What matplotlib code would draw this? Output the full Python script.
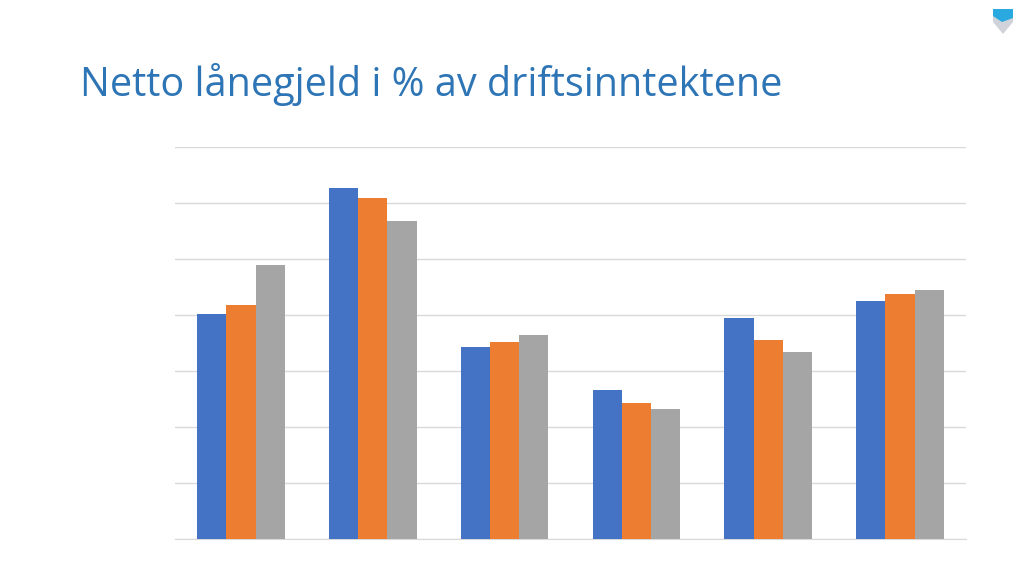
import matplotlib
matplotlib.use("Agg")
import matplotlib.pyplot as plt
import numpy as np
from matplotlib.patches import Polygon

categories = ["1", "2", "3", "4", "5", "6"]
series_a = [80.4, 125.4, 68.6, 53.2, 78.9, 85.0]
series_b = [83.6, 121.8, 70.4, 48.6, 71.1, 87.5]
series_c = [97.9, 113.6, 72.9, 46.4, 66.8, 88.9]
yticks = [0, 20, 40, 60, 80, 100, 120, 140]

colors = ["#4472C4", "#ED7D31", "#A5A5A5"]

fig = plt.figure(figsize=(10.24, 5.76), dpi=100)
ax = fig.add_axes([175/1024, 1-539/576, (966-175)/1024, (539-147)/576])

x = np.arange(len(categories))
w = 0.222
for i, (vals, c) in enumerate(zip([series_a, series_b, series_c], colors)):
    ax.bar(x + (i-1)*w, vals, width=w, color=c, zorder=3)

ax.set_xlim(-0.5, len(categories)-0.5)
ax.set_ylim(yticks[0], yticks[-1])
ax.set_yticks(yticks)
ax.yaxis.grid(True, color="#D9D9D9", linewidth=1, zorder=0)
ax.set_xticks([])
ax.tick_params(left=False, labelleft=False)
for s in ["top", "right", "left"]:
    ax.spines[s].set_visible(False)
ax.spines["bottom"].set_color("#D9D9D9")

fig.text(80/1024, 1-85/576, "Netto lånegjeld i % av driftsinntektene",
         fontsize=28.5, color="#2E75B6", family="Open Sans", va="center", ha="left")

# faint logo shield top-right
shield = Polygon([[993, 9], [1013, 9], [1013, 22], [1003, 34], [993, 22]], closed=True,
                 transform=None, facecolor="#D0D4DA", edgecolor="none")
top = Polygon([[993, 9], [1013, 9], [1013, 18], [1002, 22], [993, 16]], closed=True,
              transform=None, facecolor="#2AA8E0", edgecolor="none")
for p in (shield, top):
    xy = p.get_xy()
    xy[:, 1] = 576 - xy[:, 1]
    p.set_xy(xy)
    fig.patches.append(p)

fig.savefig("out.png", dpi=100)
